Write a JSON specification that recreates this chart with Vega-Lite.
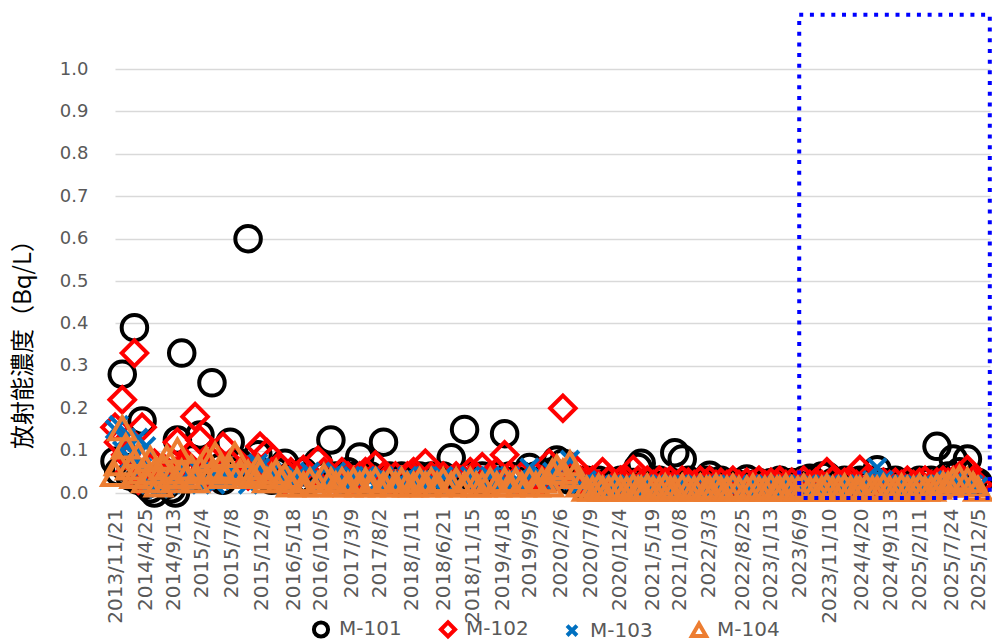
{
  "$schema": "https://vega.github.io/schema/vega-lite/v6.json",
  "width": 875,
  "height": 479,
  "autosize": {"type": "none"},
  "padding": {"left": 115, "top": 14, "right": 2, "bottom": 147},
  "config": {"view": {"stroke": null}, "font": "DejaVu Sans", "axisX": {"labelOverlap": false, "tickCount": 100, "labelFlush": false, "labelBound": false}},
  "layer": [
    {
      "data": {"values": [
        {"d":"2013/11/21","M-101":0.075,"M-102":0.155,"M-103":0.15,"M-104":0.045},
        {"d":"2013/12/10","M-101":0.05,"M-102":0.12,"M-103":0.16,"M-104":0.07},
        {"d":"2013/12/28","M-101":0.28,"M-102":0.22,"M-103":0.10,"M-104":0.153},
        {"d":"2014/01/15","M-101":0.06,"M-102":0.09,"M-103":0.13,"M-104":0.11},
        {"d":"2014/02/05","M-101":0.04,"M-102":0.05,"M-103":0.08,"M-104":0.06},
        {"d":"2014/02/28","M-101":0.39,"M-102":0.33,"M-103":0.09,"M-104":0.04},
        {"d":"2014/03/20","M-101":0.03,"M-102":0.03,"M-103":0.13,"M-104":0.09},
        {"d":"2014/04/08","M-101":0.17,"M-102":0.155,"M-103":0.06,"M-104":0.05},
        {"d":"2014/04/28","M-101":0.02,"M-102":0.04,"M-103":0.11,"M-104":0.03},
        {"d":"2014/05/20","M-101":0.01,"M-102":0.06,"M-103":0.02,"M-104":0.08},
        {"d":"2014/06/10","M-101":0.0,"M-102":0.07,"M-103":0.03,"M-104":0.05},
        {"d":"2014/07/01","M-101":0.03,"M-102":0.05,"M-103":0.01,"M-104":0.02},
        {"d":"2014/07/25","M-101":0.05,"M-102":0.06,"M-103":0.04,"M-104":0.06},
        {"d":"2014/08/12","M-101":0.02,"M-102":0.04,"M-103":0.02,"M-104":0.083},
        {"d":"2014/09/05","M-101":0.01,"M-102":0.03,"M-103":0.03,"M-104":0.04},
        {"d":"2014/09/25","M-101":0.0,"M-102":0.05,"M-103":0.05,"M-104":0.03},
        {"d":"2014/10/05","M-101":0.125,"M-102":0.12,"M-103":0.04,"M-104":0.1},
        {"d":"2014/10/27","M-101":0.33,"M-102":0.06,"M-103":0.03,"M-104":0.05},
        {"d":"2014/11/20","M-101":0.05,"M-102":0.07,"M-103":0.02,"M-104":0.04},
        {"d":"2014/12/15","M-101":0.08,"M-102":0.05,"M-103":0.04,"M-104":0.06},
        {"d":"2015/01/03","M-101":0.04,"M-102":0.18,"M-103":0.03,"M-104":0.03},
        {"d":"2015/01/28","M-101":0.137,"M-102":0.125,"M-103":0.05,"M-104":0.057},
        {"d":"2015/03/01","M-101":0.05,"M-102":0.06,"M-103":0.03,"M-104":0.08},
        {"d":"2015/03/30","M-101":0.26,"M-102":0.04,"M-103":0.04,"M-104":0.05},
        {"d":"2015/04/15","M-101":0.04,"M-102":0.085,"M-103":0.02,"M-104":0.09},
        {"d":"2015/05/10","M-101":0.06,"M-102":0.05,"M-103":0.03,"M-104":0.06},
        {"d":"2015/05/25","M-101":0.03,"M-102":0.11,"M-103":0.04,"M-104":0.04},
        {"d":"2015/07/01","M-101":0.12,"M-102":0.07,"M-103":0.05,"M-104":0.057},
        {"d":"2015/07/25","M-101":0.05,"M-102":0.08,"M-103":0.03,"M-104":0.09},
        {"d":"2015/08/20","M-101":0.07,"M-102":0.05,"M-103":0.04,"M-104":0.05},
        {"d":"2015/09/30","M-101":0.6,"M-102":0.04,"M-103":0.02,"M-104":0.047},
        {"d":"2015/10/25","M-101":0.05,"M-102":0.06,"M-103":0.05,"M-104":0.04},
        {"d":"2015/11/19","M-101":0.09,"M-102":0.06,"M-103":0.07,"M-104":0.06},
        {"d":"2015/11/30","M-101":0.05,"M-102":0.11,"M-103":0.06,"M-104":0.05},
        {"d":"2016/01/04","M-101":0.04,"M-102":0.095,"M-103":0.04,"M-104":0.03},
        {"d":"2016/01/28","M-101":0.03,"M-102":0.05,"M-103":0.05,"M-104":0.04},
        {"d":"2016/02/20","M-101":0.05,"M-102":0.04,"M-103":0.03,"M-104":0.05},
        {"d":"2016/03/15","M-101":0.03,"M-102":0.06,"M-103":0.04,"M-104":0.03},
        {"d":"2016/04/05","M-101":0.07,"M-102":0.03,"M-103":0.02,"M-104":0.04},
        {"d":"2016/05/05","M-101":0.04,"M-102":0.05,"M-103":0.03,"M-104":0.02},
        {"d":"2016/06/05","M-101":0.03,"M-102":0.04,"M-103":0.04,"M-104":0.03},
        {"d":"2016/07/08","M-101":0.05,"M-102":0.055,"M-103":0.03,"M-104":0.02},
        {"d":"2016/08/10","M-101":0.03,"M-102":0.04,"M-103":0.05,"M-104":0.03},
        {"d":"2016/09/20","M-101":0.073,"M-102":0.077,"M-103":0.04,"M-104":0.02},
        {"d":"2016/10/20","M-101":0.04,"M-102":0.05,"M-103":0.03,"M-104":0.04},
        {"d":"2016/11/25","M-101":0.125,"M-102":0.04,"M-103":0.04,"M-104":0.03},
        {"d":"2016/12/20","M-101":0.04,"M-102":0.03,"M-103":0.05,"M-104":0.02},
        {"d":"2017/01/20","M-101":0.03,"M-102":0.05,"M-103":0.03,"M-104":0.03},
        {"d":"2017/02/20","M-101":0.05,"M-102":0.04,"M-103":0.02,"M-104":0.02},
        {"d":"2017/03/20","M-101":0.04,"M-102":0.03,"M-103":0.04,"M-104":0.03},
        {"d":"2017/04/21","M-101":0.085,"M-102":0.04,"M-103":0.03,"M-104":0.02},
        {"d":"2017/05/20","M-101":0.03,"M-102":0.05,"M-103":0.04,"M-104":0.03},
        {"d":"2017/06/15","M-101":0.04,"M-102":0.03,"M-103":0.03,"M-104":0.02},
        {"d":"2017/07/10","M-101":0.03,"M-102":0.066,"M-103":0.02,"M-104":0.03},
        {"d":"2017/08/20","M-101":0.12,"M-102":0.04,"M-103":0.04,"M-104":0.02},
        {"d":"2017/09/20","M-101":0.04,"M-102":0.03,"M-103":0.03,"M-104":0.03},
        {"d":"2017/10/20","M-101":0.03,"M-102":0.04,"M-103":0.02,"M-104":0.02},
        {"d":"2017/11/20","M-101":0.04,"M-102":0.03,"M-103":0.03,"M-104":0.03},
        {"d":"2017/12/20","M-101":0.03,"M-102":0.04,"M-103":0.04,"M-104":0.02},
        {"d":"2018/01/20","M-101":0.035,"M-102":0.05,"M-103":0.03,"M-104":0.02},
        {"d":"2018/02/20","M-101":0.04,"M-102":0.03,"M-103":0.03,"M-104":0.03},
        {"d":"2018/03/21","M-101":0.03,"M-102":0.07,"M-103":0.04,"M-104":0.02},
        {"d":"2018/04/20","M-101":0.04,"M-102":0.04,"M-103":0.03,"M-104":0.03},
        {"d":"2018/05/20","M-101":0.03,"M-102":0.03,"M-103":0.02,"M-104":0.02},
        {"d":"2018/06/20","M-101":0.04,"M-102":0.04,"M-103":0.04,"M-104":0.03},
        {"d":"2018/07/31","M-101":0.083,"M-102":0.03,"M-103":0.03,"M-104":0.02},
        {"d":"2018/08/25","M-101":0.03,"M-102":0.04,"M-103":0.02,"M-104":0.03},
        {"d":"2018/10/07","M-101":0.15,"M-102":0.03,"M-103":0.03,"M-104":0.02},
        {"d":"2018/11/05","M-101":0.04,"M-102":0.05,"M-103":0.04,"M-104":0.03},
        {"d":"2018/12/05","M-101":0.03,"M-102":0.04,"M-103":0.03,"M-104":0.02},
        {"d":"2019/01/05","M-101":0.04,"M-102":0.062,"M-103":0.03,"M-104":0.02},
        {"d":"2019/02/15","M-101":0.03,"M-102":0.04,"M-103":0.04,"M-104":0.03},
        {"d":"2019/03/20","M-101":0.04,"M-102":0.05,"M-103":0.03,"M-104":0.02},
        {"d":"2019/04/29","M-101":0.14,"M-102":0.09,"M-103":0.03,"M-104":0.03},
        {"d":"2019/05/25","M-101":0.04,"M-102":0.04,"M-103":0.04,"M-104":0.02},
        {"d":"2019/06/25","M-101":0.03,"M-102":0.03,"M-103":0.03,"M-104":0.03},
        {"d":"2019/07/25","M-101":0.04,"M-102":0.04,"M-103":0.02,"M-104":0.02},
        {"d":"2019/09/03","M-101":0.06,"M-102":0.03,"M-103":0.06,"M-104":0.03},
        {"d":"2019/10/05","M-101":0.04,"M-102":0.04,"M-103":0.03,"M-104":0.02},
        {"d":"2019/11/05","M-101":0.03,"M-102":0.03,"M-103":0.04,"M-104":0.03},
        {"d":"2019/12/12","M-101":0.04,"M-102":0.07,"M-103":0.03,"M-104":0.02},
        {"d":"2019/12/28","M-101":0.05,"M-102":0.04,"M-103":0.05,"M-104":0.05},
        {"d":"2020/01/20","M-101":0.078,"M-102":0.04,"M-103":0.03,"M-104":0.06},
        {"d":"2020/02/20","M-101":0.07,"M-102":0.2,"M-103":0.06,"M-104":0.05},
        {"d":"2020/03/27","M-101":0.03,"M-102":0.04,"M-103":0.078,"M-104":0.07},
        {"d":"2020/04/17","M-101":0.03,"M-102":0.06,"M-103":0.03,"M-104":0.04},
        {"d":"2020/05/20","M-101":0.02,"M-102":0.03,"M-103":0.02,"M-104":0.02},
        {"d":"2020/06/20","M-101":0.03,"M-102":0.03,"M-103":0.03,"M-104":0.01},
        {"d":"2020/07/20","M-101":0.02,"M-102":0.03,"M-103":0.02,"M-104":0.01},
        {"d":"2020/08/20","M-101":0.03,"M-102":0.02,"M-103":0.01,"M-104":0.015},
        {"d":"2020/09/09","M-101":0.02,"M-102":0.05,"M-103":0.02,"M-104":0.01},
        {"d":"2020/10/10","M-101":0.025,"M-102":0.03,"M-103":0.015,"M-104":0.01},
        {"d":"2020/11/10","M-101":0.02,"M-102":0.02,"M-103":0.02,"M-104":0.015},
        {"d":"2020/12/10","M-101":0.03,"M-102":0.03,"M-103":0.01,"M-104":0.01},
        {"d":"2021/01/10","M-101":0.02,"M-102":0.03,"M-103":0.02,"M-104":0.01},
        {"d":"2021/02/12","M-101":0.025,"M-102":0.055,"M-103":0.015,"M-104":0.015},
        {"d":"2021/03/09","M-101":0.06,"M-102":0.03,"M-103":0.02,"M-104":0.01},
        {"d":"2021/03/25","M-101":0.07,"M-102":0.02,"M-103":0.01,"M-104":0.01},
        {"d":"2021/04/25","M-101":0.025,"M-102":0.03,"M-103":0.02,"M-104":0.015},
        {"d":"2021/05/25","M-101":0.02,"M-102":0.02,"M-103":0.015,"M-104":0.01},
        {"d":"2021/06/25","M-101":0.03,"M-102":0.03,"M-103":0.02,"M-104":0.01},
        {"d":"2021/07/25","M-101":0.02,"M-102":0.025,"M-103":0.01,"M-104":0.015},
        {"d":"2021/08/20","M-101":0.025,"M-102":0.03,"M-103":0.02,"M-104":0.01},
        {"d":"2021/09/12","M-101":0.095,"M-102":0.02,"M-103":0.015,"M-104":0.01},
        {"d":"2021/10/20","M-101":0.08,"M-102":0.03,"M-103":0.02,"M-104":0.015},
        {"d":"2021/11/20","M-101":0.03,"M-102":0.025,"M-103":0.01,"M-104":0.01},
        {"d":"2021/12/20","M-101":0.025,"M-102":0.02,"M-103":0.02,"M-104":0.01},
        {"d":"2022/01/20","M-101":0.02,"M-102":0.03,"M-103":0.015,"M-104":0.015},
        {"d":"2022/02/20","M-101":0.03,"M-102":0.02,"M-103":0.02,"M-104":0.01},
        {"d":"2022/03/09","M-101":0.042,"M-102":0.03,"M-103":0.01,"M-104":0.01},
        {"d":"2022/04/10","M-101":0.025,"M-102":0.02,"M-103":0.02,"M-104":0.015},
        {"d":"2022/05/05","M-101":0.03,"M-102":0.025,"M-103":0.015,"M-104":0.01},
        {"d":"2022/06/05","M-101":0.02,"M-102":0.02,"M-103":0.02,"M-104":0.01},
        {"d":"2022/07/05","M-101":0.025,"M-102":0.03,"M-103":0.01,"M-104":0.015},
        {"d":"2022/08/05","M-101":0.02,"M-102":0.02,"M-103":0.02,"M-104":0.01},
        {"d":"2022/09/14","M-101":0.033,"M-102":0.025,"M-103":0.015,"M-104":0.01},
        {"d":"2022/10/15","M-101":0.02,"M-102":0.02,"M-103":0.02,"M-104":0.015},
        {"d":"2022/11/15","M-101":0.025,"M-102":0.03,"M-103":0.01,"M-104":0.01},
        {"d":"2022/12/15","M-101":0.02,"M-102":0.02,"M-103":0.02,"M-104":0.01},
        {"d":"2023/01/15","M-101":0.025,"M-102":0.025,"M-103":0.015,"M-104":0.015},
        {"d":"2023/02/15","M-101":0.02,"M-102":0.02,"M-103":0.02,"M-104":0.01},
        {"d":"2023/03/01","M-101":0.03,"M-102":0.03,"M-103":0.01,"M-104":0.01},
        {"d":"2023/04/01","M-101":0.02,"M-102":0.02,"M-103":0.02,"M-104":0.015},
        {"d":"2023/05/01","M-101":0.025,"M-102":0.025,"M-103":0.015,"M-104":0.01},
        {"d":"2023/06/01","M-101":0.02,"M-102":0.02,"M-103":0.02,"M-104":0.01},
        {"d":"2023/07/01","M-101":0.03,"M-102":0.03,"M-103":0.01,"M-104":0.015},
        {"d":"2023/08/01","M-101":0.035,"M-102":0.02,"M-103":0.02,"M-104":0.01},
        {"d":"2023/09/01","M-101":0.02,"M-102":0.025,"M-103":0.015,"M-104":0.01},
        {"d":"2023/10/01","M-101":0.04,"M-102":0.02,"M-103":0.02,"M-104":0.01},
        {"d":"2023/10/27","M-101":0.04,"M-102":0.05,"M-103":0.01,"M-104":0.015},
        {"d":"2023/11/25","M-101":0.025,"M-102":0.03,"M-103":0.02,"M-104":0.01},
        {"d":"2023/12/25","M-101":0.02,"M-102":0.02,"M-103":0.015,"M-104":0.01},
        {"d":"2024/01/25","M-101":0.03,"M-102":0.025,"M-103":0.02,"M-104":0.015},
        {"d":"2024/02/25","M-101":0.02,"M-102":0.03,"M-103":0.01,"M-104":0.01},
        {"d":"2024/03/25","M-101":0.025,"M-102":0.02,"M-103":0.015,"M-104":0.01},
        {"d":"2024/04/12","M-101":0.03,"M-102":0.055,"M-103":0.02,"M-104":0.01},
        {"d":"2024/05/15","M-101":0.02,"M-102":0.03,"M-103":0.02,"M-104":0.015},
        {"d":"2024/06/15","M-101":0.03,"M-102":0.02,"M-103":0.03,"M-104":0.01},
        {"d":"2024/07/09","M-101":0.055,"M-102":0.03,"M-103":0.06,"M-104":0.01},
        {"d":"2024/08/10","M-101":0.025,"M-102":0.025,"M-103":0.03,"M-104":0.015},
        {"d":"2024/09/10","M-101":0.02,"M-102":0.02,"M-103":0.02,"M-104":0.01},
        {"d":"2024/10/10","M-101":0.03,"M-102":0.025,"M-103":0.015,"M-104":0.01},
        {"d":"2024/11/10","M-101":0.02,"M-102":0.02,"M-103":0.02,"M-104":0.015},
        {"d":"2024/12/10","M-101":0.025,"M-102":0.03,"M-103":0.01,"M-104":0.01},
        {"d":"2025/01/10","M-101":0.02,"M-102":0.02,"M-103":0.02,"M-104":0.01},
        {"d":"2025/02/10","M-101":0.03,"M-102":0.025,"M-103":0.015,"M-104":0.015},
        {"d":"2025/03/10","M-101":0.025,"M-102":0.03,"M-103":0.02,"M-104":0.01},
        {"d":"2025/04/10","M-101":0.03,"M-102":0.02,"M-103":0.015,"M-104":0.01},
        {"d":"2025/05/10","M-101":0.11,"M-102":0.025,"M-103":0.02,"M-104":0.015},
        {"d":"2025/06/10","M-101":0.03,"M-102":0.03,"M-103":0.02,"M-104":0.02},
        {"d":"2025/07/05","M-101":0.04,"M-102":0.025,"M-103":0.03,"M-104":0.02},
        {"d":"2025/08/01","M-101":0.08,"M-102":0.03,"M-103":0.025,"M-104":0.03},
        {"d":"2025/09/01","M-101":0.05,"M-102":0.04,"M-103":0.03,"M-104":0.035},
        {"d":"2025/10/12","M-101":0.08,"M-102":0.055,"M-103":0.02,"M-104":0.03},
        {"d":"2025/11/10","M-101":0.03,"M-102":0.03,"M-103":0.02,"M-104":0.02},
        {"d":"2025/12/05","M-101":0.025,"M-102":0.02,"M-103":0.015,"M-104":0.01}
      ]},
      "transform": [{"fold": ["M-101","M-102","M-103","M-104"], "as": ["series","value"]}],
      "mark": {"type": "point", "filled": false, "strokeWidth": 4, "size": 650, "opacity": 1},
      "encoding": {
        "x": {
          "field": "d", "type": "temporal", "title": null,
          "scale": {"domain": [{"year":2013,"month":11,"date":21},{"year":2026,"month":2,"date":4}]},
          "axis": {
            "values": [
              {"year":2013,"month":11,"date":21},{"year":2014,"month":4,"date":25},{"year":2014,"month":9,"date":13},
              {"year":2015,"month":2,"date":4},{"year":2015,"month":7,"date":8},{"year":2015,"month":12,"date":9},
              {"year":2016,"month":5,"date":18},{"year":2016,"month":10,"date":5},{"year":2017,"month":3,"date":9},
              {"year":2017,"month":8,"date":2},{"year":2018,"month":1,"date":11},{"year":2018,"month":6,"date":21},
              {"year":2018,"month":11,"date":15},{"year":2019,"month":4,"date":18},{"year":2019,"month":9,"date":5},
              {"year":2020,"month":2,"date":6},{"year":2020,"month":7,"date":9},{"year":2020,"month":12,"date":4},
              {"year":2021,"month":5,"date":19},{"year":2021,"month":10,"date":8},{"year":2022,"month":3,"date":3},
              {"year":2022,"month":8,"date":25},{"year":2023,"month":1,"date":13},{"year":2023,"month":6,"date":9},
              {"year":2023,"month":11,"date":10},{"year":2024,"month":4,"date":20},{"year":2024,"month":9,"date":13},
              {"year":2025,"month":2,"date":11},{"year":2025,"month":7,"date":24},{"year":2025,"month":12,"date":5}
            ],
            "tickCount": 100,
            "format": "%Y/%-m/%-d",
            "labelAngle": 270,
            "labelFont": "DejaVu Sans",
            "labelFontSize": 20,
            "labelColor": "#595959",
            "labelPadding": 15,
            "ticks": false,
            "grid": false,
            "domain": false,
            "labelOverlap": false,
            "labelFlush": false,
            "labelBound": false
          }
        },
        "y": {
          "field": "value", "type": "quantitative", "title": "放射能濃度（Bq/L）",
          "scale": {"domain": [0, 1.13], "nice": false, "zero": false},
          "axis": {
            "values": [0, 0.1, 0.2, 0.3, 0.4, 0.5, 0.6, 0.7, 0.8, 0.9, 1.0],
            "tickCount": 20,
            "format": ".1f",
            "labelFont": "DejaVu Sans",
            "labelFontSize": 18,
            "labelColor": "#595959",
            "labelPadding": 27,
            "ticks": false,
            "domain": false,
            "gridColor": "#d9d9d9",
            "gridWidth": 1.5,
            "titleFont": "Noto Sans CJK JP",
            "titleFontSize": 24,
            "titleFontWeight": "normal",
            "titleColor": "#000000",
            "titleX": -92,
            "titleY": 324,
            "titleAngle": 270,
            "titleAlign": "center",
            "titleBaseline": "middle"
          }
        },
        "color": {
          "field": "series", "type": "nominal",
          "scale": {"domain": ["M-101","M-102","M-103","M-104"], "range": ["#000000","#ff0000","#0070c0","#ed7d31"]},
          "legend": {
            "title": null, "orient": "none", "legendX": 196, "legendY": 605, "direction": "horizontal",
            "labelFont": "DejaVu Sans", "labelFontSize": 20, "labelColor": "#595959",
            "symbolSize": 200, "symbolStrokeWidth": 4, "labelOffset": 8, "columnPadding": 30
          }
        },
        "shape": {
          "field": "series", "type": "nominal",
          "scale": {"domain": ["M-101","M-102","M-103","M-104"], "range": ["circle","diamond","M-0.7,-0.7L0.7,0.7M-0.7,0.7L0.7,-0.7","triangle-up"]},
          "legend": {
            "title": null, "orient": "none", "legendX": 196, "legendY": 605, "direction": "horizontal",
            "labelFont": "DejaVu Sans", "labelFontSize": 20, "labelColor": "#595959",
            "symbolSize": 200, "symbolStrokeWidth": 4, "labelOffset": 8, "columnPadding": 30
          }
        },
        "order": {"field": "series", "type": "ordinal"}
      }
    },
    {
      "data": {"values": [{"x1": "2023/06/08", "x2": "2026/02/03", "y1": -0.012, "y2": 1.128}]},
      "mark": {"type": "rect", "fill": null, "stroke": "#0000ff", "strokeWidth": 4, "strokeDash": [4, 6.7]},
      "encoding": {
        "x": {"field": "x1", "type": "temporal", "title": null},
        "x2": {"field": "x2"},
        "y": {"field": "y1", "type": "quantitative", "title": "放射能濃度（Bq/L）"},
        "y2": {"field": "y2"}
      }
    }
  ]
}
